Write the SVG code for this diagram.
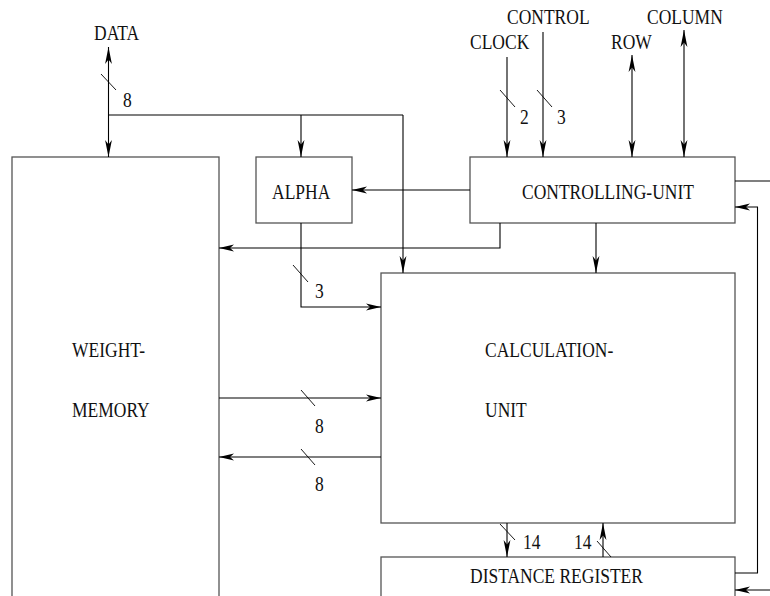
<svg xmlns="http://www.w3.org/2000/svg" width="770" height="596" viewBox="0 0 770 596">
<style>
.box{fill:#fff;stroke:#555;stroke-width:1.3}
.ln{fill:none;stroke:#000;stroke-width:1.1}
.sl{fill:none;stroke:#000;stroke-width:0.9}
.ah{marker-end:url(#ah)}
.av{marker-end:url(#av)}
.as{marker-start:url(#avs)}
text{font-family:"Liberation Serif","Times New Roman",serif;font-size:17.5px;fill:#111}
</style>
<defs>
<marker id="ah" markerUnits="userSpaceOnUse" markerWidth="20" markerHeight="10" viewBox="-16 -5 17 10" refX="0" refY="0" orient="auto" overflow="visible">
<path d="M0 0 L-15 -3.6 L-11 0 L-15 3.6 Z" fill="#000"/>
</marker>
<marker id="av" markerUnits="userSpaceOnUse" markerWidth="20" markerHeight="10" viewBox="-19 -5 20 10" refX="0" refY="0" orient="auto" overflow="visible">
<path d="M0 0 L-17 -3.4 L-12.5 0 L-17 3.4 Z" fill="#000"/>
</marker>
<marker id="avs" markerUnits="userSpaceOnUse" markerWidth="20" markerHeight="10" viewBox="-19 -5 20 10" refX="0" refY="0" orient="auto-start-reverse" overflow="visible">
<path d="M0 0 L-17 -3.4 L-12.5 0 L-17 3.4 Z" fill="#000"/>
</marker>
</defs>
<rect width="770" height="596" fill="#fff"/>

<g id="weight-memory">
<rect class="box" x="12" y="157" width="207" height="460"/>
<text transform="translate(72 357) scale(1 1.2)">WEIGHT-</text>
<text transform="translate(72 417) scale(1 1.2)">MEMORY</text>
</g>
<g id="alpha">
<rect class="box" x="256" y="157" width="96" height="66"/>
<text transform="translate(272 199) scale(1 1.2)">ALPHA</text>
</g>
<g id="controlling-unit">
<rect class="box" x="470" y="157" width="265" height="66"/>
<text transform="translate(522 199) scale(1 1.2)">CONTROLLING-UNIT</text>
</g>
<g id="calculation-unit">
<rect class="box" x="381" y="273" width="354" height="250"/>
<text transform="translate(485 357) scale(1 1.2)">CALCULATION-</text>
<text transform="translate(485 417) scale(1 1.2)">UNIT</text>
</g>
<g id="distance-register">
<rect class="box" x="381" y="557" width="354" height="60"/>
<text transform="translate(470 583) scale(1 1.2)">DISTANCE REGISTER</text>
</g>

<g id="inputs">
<text transform="translate(94 40) scale(1 1.2)">DATA</text>
<text transform="translate(507 24) scale(1 1.2)">CONTROL</text>
<text transform="translate(647 24) scale(1 1.2)">COLUMN</text>
<text transform="translate(470 49) scale(1 1.2)">CLOCK</text>
<text transform="translate(611 49) scale(1 1.2)">ROW</text>
</g>

<g id="connectors">
<path class="ln av as" d="M108.5 47 L108.5 157"/>
<path class="ln" d="M108.5 115 L403 115"/>
<path class="ln av" d="M403 115 L403 273"/>
<path class="ln av" d="M301 115 L301 157"/>
<line class="sl" x1="101" y1="74" x2="116" y2="90"/>
<text transform="translate(123 107) scale(1 1.2)">8</text>

<path class="ln av" d="M507 57 L507 157"/>
<path class="ln av" d="M543 32 L543 157"/>
<line class="sl" x1="500" y1="90" x2="515" y2="107"/>
<line class="sl" x1="537" y1="90" x2="552" y2="107"/>
<text transform="translate(520 124) scale(1 1.2)">2</text>
<text transform="translate(557 124) scale(1 1.2)">3</text>

<path class="ln av as" d="M632 55 L632 157"/>
<path class="ln av as" d="M684 30 L684 157"/>

<path class="ln ah" d="M470 190 L352 190"/>
<path class="ln ah" d="M500 223 L500 248 L219 248"/>
<path class="ln av" d="M596 223 L596 273"/>
<path class="ln" d="M735 181 L770 181"/>

<path class="ln ah" d="M301 223 L301 307 L381 307"/>
<line class="sl" x1="293" y1="265" x2="308" y2="282"/>
<text transform="translate(315 298) scale(1 1.2)">3</text>

<path class="ln ah" d="M219 398 L381 398"/>
<line class="sl" x1="301" y1="390" x2="315" y2="406"/>
<text transform="translate(315 433) scale(1 1.2)">8</text>
<path class="ln ah" d="M381 457 L219 457"/>
<line class="sl" x1="301" y1="449" x2="315" y2="465"/>
<text transform="translate(315 491) scale(1 1.2)">8</text>

<path class="ln av" d="M507 523 L507 557"/>
<line class="sl" x1="500" y1="524" x2="515" y2="540"/>
<text transform="translate(523 549) scale(1 1.2)">14</text>
<path class="ln av" d="M603 557 L603 523"/>
<line class="sl" x1="597" y1="541" x2="611" y2="557"/>
<text transform="translate(574 549) scale(1 1.2)">14</text>

<path class="ln ah" d="M735 573 L757.5 573 L757.5 207 L735 207"/>
<path class="ln ah" d="M770 590 L735 590"/>
</g>
</svg>
